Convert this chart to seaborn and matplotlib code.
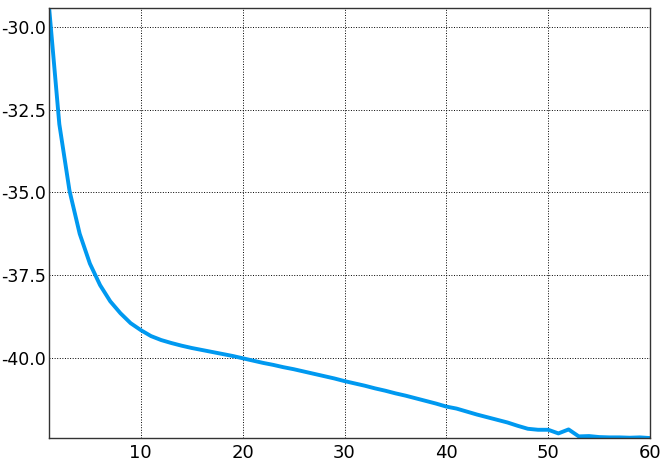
import numpy as np
import pandas as pd
import matplotlib
import matplotlib.pyplot as plt
import seaborn as sns

matplotlib.use('agg')

# values, one per epoch
epochs = list(range(1, 61))
values = [
    -29.43, -32.94, -34.95, -36.25, -37.15, -37.80, -38.29, -38.65, -38.95, -39.16,
    -39.34, -39.46, -39.55, -39.63, -39.70, -39.76, -39.82, -39.88, -39.94, -40.01,
    -40.08, -40.15, -40.21, -40.28, -40.34, -40.41, -40.48, -40.55, -40.62, -40.70,
    -40.77, -40.84, -40.92, -40.99, -41.07, -41.14, -41.22, -41.30, -41.38, -41.47,
    -41.53, -41.62, -41.71, -41.79, -41.87, -41.95, -42.05, -42.14, -42.17, -42.17,
    -42.28, -42.16, -42.37, -42.36, -42.39, -42.40, -42.40, -42.41, -42.40, -42.42,
]

df = pd.DataFrame({'epoch': epochs, 'value': values})

sns.set_style('white')
plt.rcParams['font.family'] = ['DejaVu Sans']
plt.rcParams['axes.unicode_minus'] = False

fig = plt.figure(figsize=(6.64, 4.69), dpi=100)
ax = fig.add_axes([0.074, 0.066, 0.905, 0.917])
sns.lineplot(data=df, x='epoch', y='value', color='#0099f0', linewidth=2.8, ax=ax)

ax.set_xlim(min(epochs), max(epochs))
ax.set_ylim(min(values), max(values))
ax.set_xticks([10, 20, 30, 40, 50, 60])
ax.set_yticks([-30.0, -32.5, -35.0, -37.5, -40.0])
ax.yaxis.set_major_formatter(matplotlib.ticker.FormatStrFormatter('%.1f'))
ax.set_xlabel('')
ax.set_ylabel('')
ax.tick_params(axis='x', labelsize=13, length=0, pad=4, labelcolor='black')
ax.tick_params(axis='y', labelsize=12.5, length=0, pad=2.5, labelcolor='black')
ax.grid(True, color='black', linestyle=':', linewidth=0.7)
for s in ax.spines.values():
    s.set_color('#333333')
    s.set_linewidth(1.0)

plt.savefig('out.png', dpi=100)
plt.close()
